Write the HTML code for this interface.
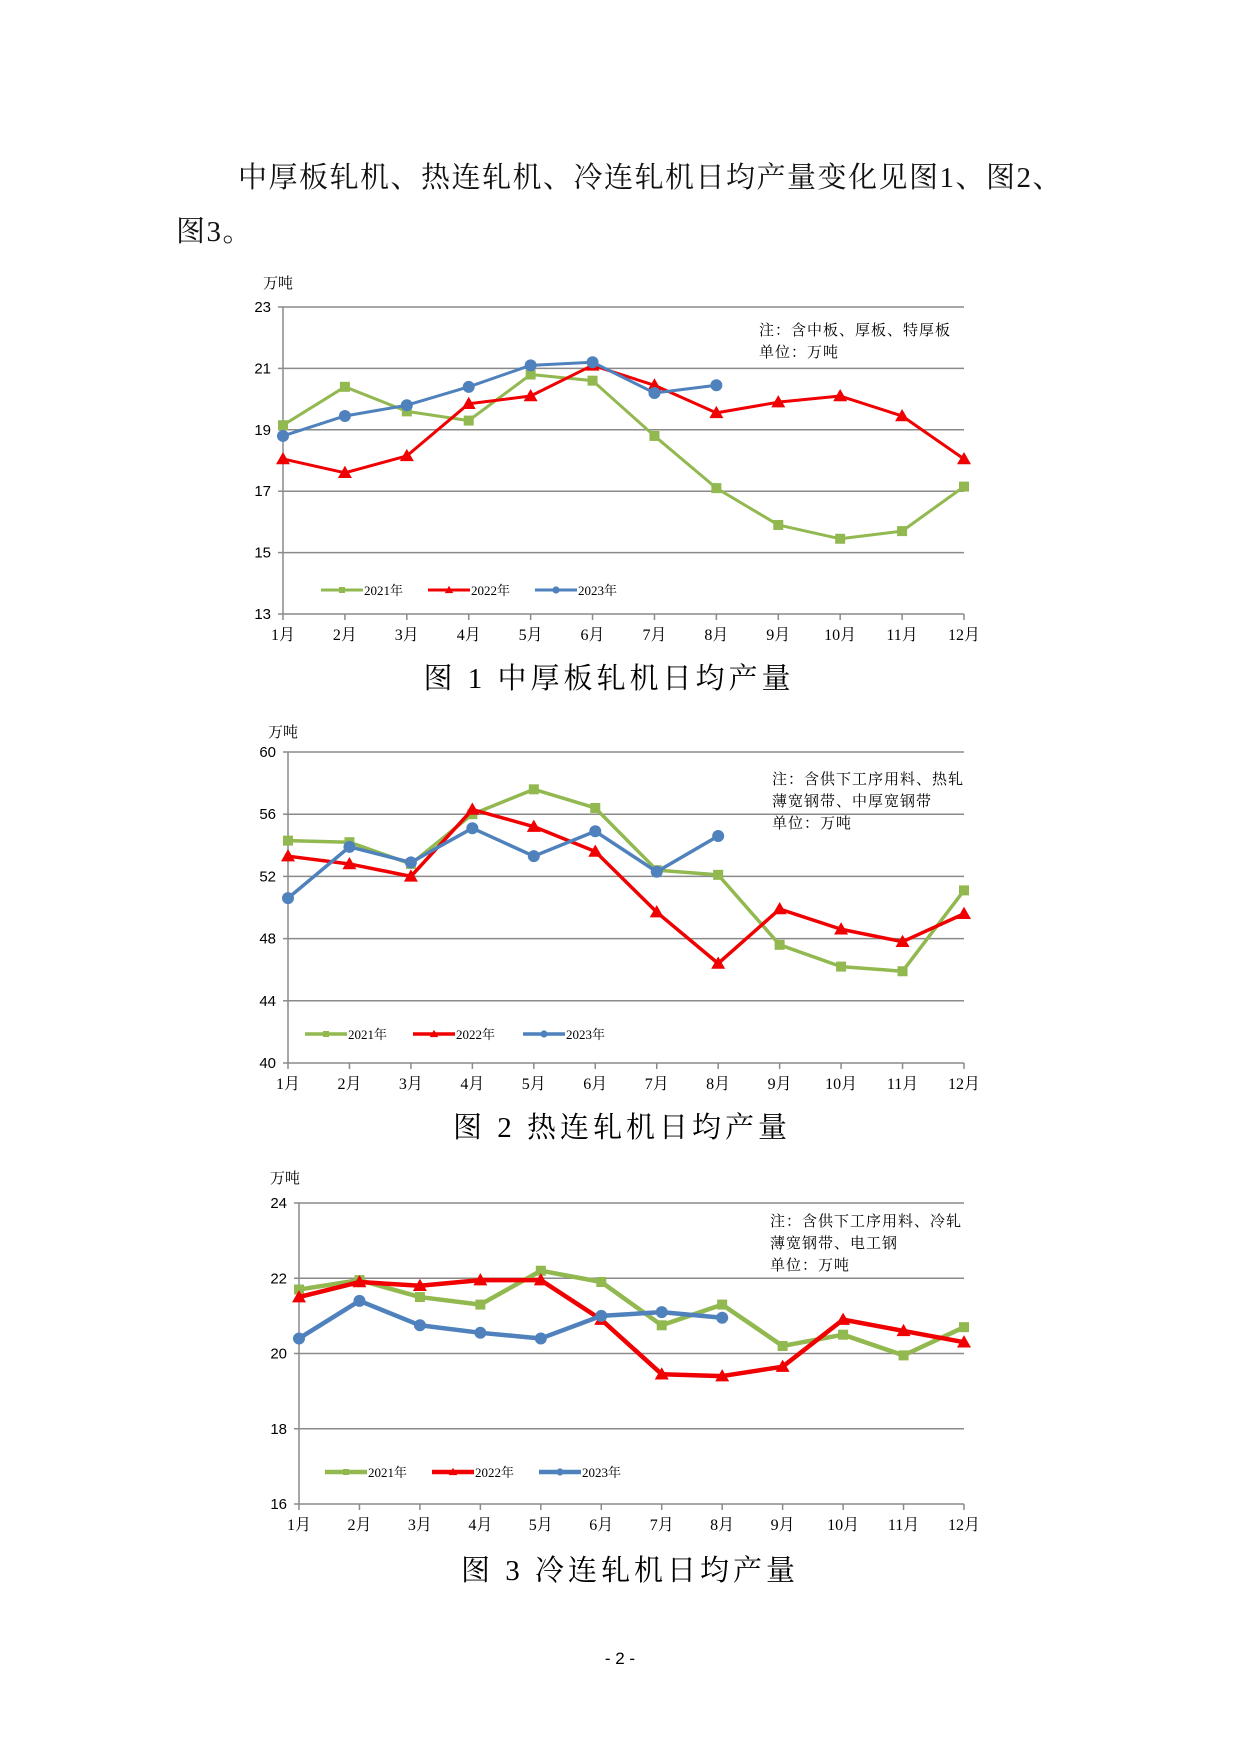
<!DOCTYPE html>
<html><head><meta charset="utf-8"><style>
body{margin:0;background:#fff;}
#wrap{position:relative;width:1240px;height:1753px;overflow:hidden;background:#fff;font-family:"Liberation Serif","Noto Serif CJK SC",serif;}
.t{position:absolute;font-size:29px;color:#111;white-space:nowrap;letter-spacing:1.5px;}
svg{position:absolute;left:0;top:0;}
</style></head><body><div id="wrap">
<div class="t" style="left:238px;top:155px;">中厚板轧机、热连轧机、冷连轧机日均产量变化见图1、图2、</div>
<div class="t" style="left:176px;top:209px;">图3。</div>
<svg id="s" width="1240" height="1753" xmlns="http://www.w3.org/2000/svg"></svg>
</div>
<script>
const S=document.getElementById('s');let h='';
const G='#92B850',R='#F00000',B='#4F81BD';
function chart(c){
 const {xL,xR,yT,yB,min,max,step}=c;
 const sx=i=>xL+i*(xR-xL)/11, sy=v=>yB-(v-min)/(max-min)*(yB-yT);
 for(let v=min;v<=max;v+=step){const y=sy(v);
  h+=`<line x1="${xL}" y1="${y}" x2="${xR}" y2="${y}" stroke="#8a8a8a" stroke-width="1.5"/>`;
  h+=`<line x1="${xL-5}" y1="${y}" x2="${xL}" y2="${y}" stroke="#8a8a8a" stroke-width="1.5"/>`;
  h+=`<text x="${xL-12}" y="${y+5}" font-size="15" text-anchor="end" font-family="Liberation Sans Narrow,Liberation Sans,sans-serif">${v}</text>`;}
 h+=`<line x1="${xL}" y1="${yT}" x2="${xL}" y2="${yB}" stroke="#8a8a8a" stroke-width="1.5"/>`;
 for(let i=0;i<12;i++){h+=`<line x1="${sx(i)}" y1="${yB}" x2="${sx(i)}" y2="${yB+6}" stroke="#8a8a8a" stroke-width="1.5"/>`;
  h+=`<text x="${sx(i)}" y="${yB+26}" font-size="16" text-anchor="middle" font-family="Liberation Serif,Noto Serif CJK SC,serif">${i+1}月</text>`;}
 h+=`<text x="${c.ux}" y="${c.uy}" font-size="15" font-family="Liberation Serif,Noto Serif CJK SC,serif">万吨</text>`;
 c.note.forEach((n,k)=>h+=`<text x="${c.nx}" y="${c.ny+k*22}" font-size="15" letter-spacing="1" font-family="Liberation Serif,Noto Serif CJK SC,serif">${n}</text>`);
 const ser=[[G,c.d1,'sq'],[R,c.d2,'tri'],[B,c.d3,'ci']];
 ser.forEach(([col,d,m])=>{
  h+=`<polyline fill="none" stroke="${col}" stroke-width="${c.lw}" stroke-linejoin="round" points="${d.map((v,i)=>sx(i)+','+sy(v)).join(' ')}"/>`;
  d.forEach((v,i)=>h+=mk(m,col,sx(i),sy(v),1));
 });
 ser.forEach(([col,d,m],k)=>{const x=c.lx[k],y=c.ly;
  h+=`<line x1="${x}" y1="${y}" x2="${x+42}" y2="${y}" stroke="${col}" stroke-width="${c.lw}"/>`+mk(m,col,x+21,y,0.6);
  h+=`<text x="${x+43}" y="${y+5}" font-size="13" font-family="Liberation Serif,Noto Serif CJK SC,serif">${['2021年','2022年','2023年'][k]}</text>`;});
 h+=`<text x="${c.tx}" y="${c.ty}" font-size="29" text-anchor="middle" letter-spacing="4" font-family="Liberation Serif,Noto Serif CJK SC,serif">${c.title}</text>`;
}
function mk(m,col,x,y,s){
 if(m==='sq'){const r=5*s;return `<rect x="${x-r}" y="${y-r}" width="${2*r}" height="${2*r}" fill="${col}"/>`;}
 if(m==='tri'){const r=7*s;return `<polygon points="${x},${y-r} ${x+r},${y+r*0.75} ${x-r},${y+r*0.75}" fill="${col}"/>`;}
 return `<circle cx="${x}" cy="${y}" r="${6*s}" fill="${col}"/>`;
}
chart({xL:283,xR:964,yT:307,yB:614,min:13,max:23,step:2,lw:3,ux:263,uy:288,
 nx:759,ny:335,note:['注：含中板、厚板、特厚板','单位：万吨'],lx:[321,428,535],ly:590,tx:609,ty:688,title:'图 1  中厚板轧机日均产量',
 d1:[19.15,20.4,19.6,19.3,20.8,20.6,18.8,17.1,15.9,15.45,15.7,17.15],
 d2:[18.05,17.6,18.15,19.85,20.1,21.1,20.45,19.55,19.9,20.1,19.45,18.05],
 d3:[18.8,19.45,19.8,20.4,21.1,21.2,20.2,20.45]});
chart({xL:288,xR:964,yT:752,yB:1063,min:40,max:60,step:4,lw:3.5,ux:268,uy:737,
 nx:772,ny:784,note:['注：含供下工序用料、热轧','薄宽钢带、中厚宽钢带','单位：万吨'],lx:[305,413,523],ly:1034,tx:622,ty:1137,title:'图 2  热连轧机日均产量',
 d1:[54.3,54.2,52.8,56.0,57.6,56.4,52.4,52.1,47.6,46.2,45.9,51.1],
 d2:[53.3,52.8,52.0,56.3,55.2,53.6,49.7,46.4,49.9,48.6,47.8,49.6],
 d3:[50.6,53.9,52.9,55.1,53.3,54.9,52.3,54.6]});
chart({xL:299,xR:964,yT:1203,yB:1504,min:16,max:24,step:2,lw:4.5,ux:270,uy:1183,
 nx:770,ny:1226,note:['注：含供下工序用料、冷轧','薄宽钢带、电工钢','单位：万吨'],lx:[325,432,539],ly:1472,tx:630,ty:1580,title:'图 3  冷连轧机日均产量',
 d1:[21.7,21.95,21.5,21.3,22.2,21.9,20.75,21.3,20.2,20.5,19.95,20.7],
 d2:[21.5,21.9,21.8,21.95,21.95,20.9,19.45,19.4,19.65,20.9,20.6,20.3],
 d3:[20.4,21.4,20.75,20.55,20.4,21.0,21.1,20.95]});
h+=`<text x="620" y="1664" font-size="17" text-anchor="middle" font-family="Liberation Sans,sans-serif">- 2 -</text>`;
S.innerHTML=h;
</script></body></html>
